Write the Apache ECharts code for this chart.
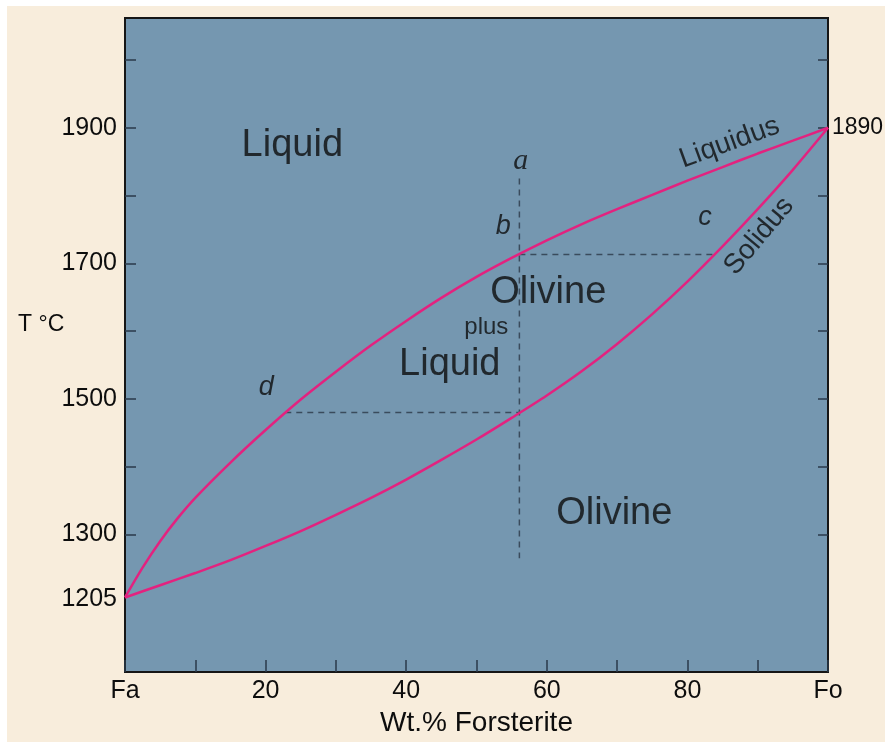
<!DOCTYPE html>
<html>
<head>
<meta charset="utf-8">
<script src="https://cdn.jsdelivr.net/npm/echarts@6/dist/echarts.min.js"></script>
<style>
html,body{margin:0;padding:0;background:#ffffff;}
#chart{width:885px;height:742px;}
</style>
</head>
<body>
<div id="chart"></div>
<script>
// ---- Data (wt.% forsterite vs temperature, °C) ----
const liquidusX = [0, 2.5, 5, 7.5, 10, 15, 20, 25, 30, 35, 40, 45, 50, 55, 60, 65, 70, 75, 80, 85, 90, 95, 100];
const liquidusT = [1207, 1251, 1290, 1324, 1354, 1406, 1454, 1499, 1540, 1579, 1615, 1649, 1680, 1708, 1734, 1758, 1780, 1801, 1822, 1842, 1862, 1881, 1900];
const solidusX = [0, 5, 10, 15, 20, 25, 30, 35, 40, 45, 50, 55, 60, 65, 70, 75, 80, 85, 90, 95, 100];
const solidusT = [1207, 1225, 1243, 1262, 1283, 1305, 1329, 1354, 1381, 1410, 1440, 1472, 1505, 1541, 1581, 1625, 1673, 1725, 1780, 1838, 1900];

// Crystallisation path (dashed guide lines)
const isoplethX = [56.1, 56.1];
const isoplethT = [1825, 1265];
const tieUpperX = [56.1, 84.2];
const tieUpperT = [1713, 1713];
const tieLowerX = [22.8, 56.1];
const tieLowerT = [1480, 1480];

// Axis tick values and labels
const xTickValues = [0, 10, 20, 30, 40, 50, 60, 70, 80, 90, 100];
const xLabelValues = [0, 20, 40, 60, 80, 100];
const xEndNames = {0: 'Fa', 100: 'Fo'};
const yTickValues = [1300, 1400, 1500, 1600, 1700, 1800, 1900, 2000];
const yLabelValues = [1205, 1300, 1500, 1700, 1900];
const foMeltLabel = '1890';
const yAxisTitle = 'T °C';

// Field / point annotations: [x, T, text]
const fieldLabels = [
  [23.8, 1874, 'Liquid'],
  [60.2, 1657, 'Olivine'],
  [46.2, 1551, 'Liquid'],
  [69.6, 1331, 'Olivine']
];
const smallLabels = [[51.4, 1606, 'plus']];
const pointLabels = [
  [56.3, 1851, 'a', 'serif'],
  [53.8, 1755, 'b'],
  [82.5, 1767, 'c'],
  [20.1, 1517, 'd']
];
const curveLabels = [
  [86.0, 1878, 'Liquidus', 20],
  [90.2, 1740, 'Solidus', 50]
];

const zip = (xs, ys) => xs.map((x, i) => [x, ys[i]]);
const FONT = '"Liberation Sans", Arial, Helvetica, sans-serif';
const SERIF = '"Liberation Serif", "Times New Roman", serif';
const CURVE = '#e3227f';
const DASH = '#3a4b5c';
const INK = '#0d0d0d';

const chart = echarts.init(document.getElementById('chart'), null, {renderer: 'canvas'});

const dashedSeries = (name, xs, ys) => ({
  name, type: 'line', data: zip(xs, ys), symbol: 'none', silent: true,
  lineStyle: {color: DASH, width: 1.5, type: [6, 5]}, z: 3
});

const textSeries = (name, arr, style, extra) => ({
  name, type: 'scatter', silent: true, symbolSize: 0, z: 10,
  data: arr.map(d => ({value: [d[0], d[1]], name: d[2], label: extra ? extra(d) : undefined})),
  label: Object.assign({show: true, position: 'inside', formatter: p => p.name, color: INK, fontFamily: FONT}, style)
});

chart.setOption({
  backgroundColor: '#ffffff',
  animation: false,
  graphic: [{
    type: 'rect', left: 7, top: 6, z: -100,
    shape: {width: 878, height: 736},
    style: {fill: '#f8eddc'}
  }, {
    type: 'text', left: 18, top: 313, z: 10,
    style: {text: yAxisTitle, fontSize: 23, fill: INK, fontFamily: FONT}
  }],
  grid: {
    left: 125, right: 57, top: 18, bottom: 70,
    outerBoundsMode: 'none', containLabel: false,
    show: true, backgroundColor: '#7597b0', borderColor: '#161616', borderWidth: 2
  },
  xAxis: {
    type: 'value', min: 0, max: 100,
    axisLine: {show: false},
    splitLine: {show: false},
    axisTick: {show: true, inside: true, length: 12, customValues: xTickValues, lineStyle: {color: '#2a3a4a', width: 1.5}},
    axisLabel: {
      customValues: xLabelValues, margin: 7, fontSize: 25, color: INK, fontFamily: FONT,
      formatter: v => xEndNames[v] !== undefined ? xEndNames[v] : String(v)
    },
    name: 'Wt.% Forsterite', nameLocation: 'middle', nameGap: 33,
    nameTextStyle: {fontSize: 28, color: INK, fontFamily: FONT}
  },
  yAxis: [{
    type: 'value', min: 1097, max: 2062, position: 'left',
    axisLine: {show: false},
    splitLine: {show: false},
    axisTick: {show: true, inside: true, length: 11, customValues: yTickValues, lineStyle: {color: '#2a3a4a', width: 1.5}},
    axisLabel: {customValues: yLabelValues, margin: 8, fontSize: 25, color: INK, fontFamily: FONT, formatter: v => String(v)}
  }, {
    type: 'value', min: 1097, max: 2062, position: 'right',
    axisLine: {show: false},
    splitLine: {show: false},
    axisTick: {show: true, inside: true, length: 10, customValues: yTickValues, lineStyle: {color: '#2a3a4a', width: 1.5}},
    axisLabel: {show: false}
  }],
  series: [
    dashedSeries('isopleth', isoplethX, isoplethT),
    dashedSeries('tie-upper', tieUpperX, tieUpperT),
    dashedSeries('tie-lower', tieLowerX, tieLowerT),
    {
      name: 'Liquidus', type: 'line', data: zip(liquidusX, liquidusT), smooth: 0.3, symbol: 'none', z: 5,
      lineStyle: {color: CURVE, width: 2.5},
      endLabel: {show: true, formatter: () => foMeltLabel, distance: 4, fontSize: 23, color: INK, fontFamily: FONT}
    },
    {
      name: 'Solidus', type: 'line', data: zip(solidusX, solidusT), smooth: 0.3, symbol: 'none', z: 5,
      lineStyle: {color: CURVE, width: 2.5}
    },
    textSeries('fields', fieldLabels, {fontSize: 38}),
    textSeries('plus', smallLabels, {fontSize: 24}),
    textSeries('points', pointLabels, {fontSize: 27, fontStyle: 'italic'}, d => d[3] === 'serif' ? {fontFamily: SERIF, fontSize: 30} : undefined),
    textSeries('curves', curveLabels, {fontSize: 28}, d => ({rotate: d[3]}))
  ]
});
</script>
</body>
</html>
